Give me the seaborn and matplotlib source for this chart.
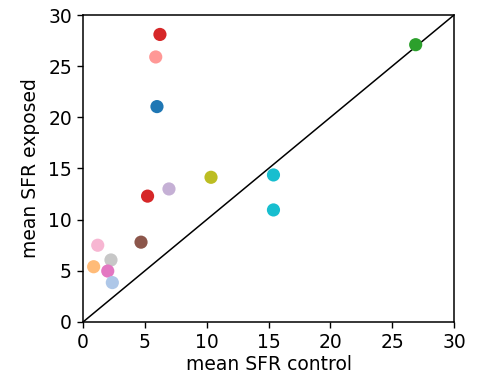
import matplotlib
matplotlib.use("Agg")
import matplotlib.pyplot as plt
import seaborn as sns
import pandas as pd

sns.set_style("ticks")
plt.rcParams['font.family'] = ['DejaVu Sans']
plt.rcParams['text.color'] = 'black'
plt.rcParams['axes.labelcolor'] = 'black'
plt.rcParams['xtick.color'] = 'black'
plt.rcParams['ytick.color'] = 'black'

labels = ["a", "b", "c", "d", "e", "f", "g", "h", "i", "j", "k", "l", "m", "n", "o"]
sfr_control = [6.22, 5.88, 5.98, 26.9, 10.35, 15.4, 15.4, 5.22, 6.95, 1.19, 4.69, 2.26, 0.86, 2.0, 2.37]
sfr_exposed = [28.1, 25.9, 21.05, 27.1, 14.14, 14.37, 10.95, 12.3, 13.0, 7.5, 7.8, 6.06, 5.4, 4.98, 3.85]
colors = ["#d62728", "#ff9896", "#1f77b4", "#2ca02c", "#bcbd22", "#17becf", "#17becf",
          "#d62728", "#c5b0d5", "#f7b6d2", "#8c564b", "#c7c7c7", "#ffbb78", "#e377c2", "#aec7e8"]
ticks = [0, 5, 10, 15, 20, 25, 30]

df = pd.DataFrame({"label": labels, "control": sfr_control, "exposed": sfr_exposed})

fig = plt.figure(figsize=(4.81, 3.81), dpi=100)
ax = fig.add_axes([0.1726, 0.1549, 0.9439 - 0.1726, 0.9606 - 0.1549])
sns.scatterplot(data=df, x="control", y="exposed", hue="label", palette=colors,
                s=90, linewidth=0, legend=False, ax=ax, zorder=3)
ax.plot([0, 30], [0, 30], color="black", linewidth=1.1, zorder=2)
ax.set_xlim(0, 30)
ax.set_ylim(0, 30)
ax.set_xticks(ticks)
ax.set_yticks(ticks)
ax.tick_params(labelsize=13.5, length=4.5, width=1, colors="black")
ax.set_xlabel("mean SFR control", fontsize=13.5, labelpad=2)
ax.set_ylabel("mean SFR exposed", fontsize=13.5, labelpad=6)
for sp in ax.spines.values():
    sp.set_visible(True)
    sp.set_color("black")
    sp.set_linewidth(1.1)
fig.savefig("out.png", dpi=100)
